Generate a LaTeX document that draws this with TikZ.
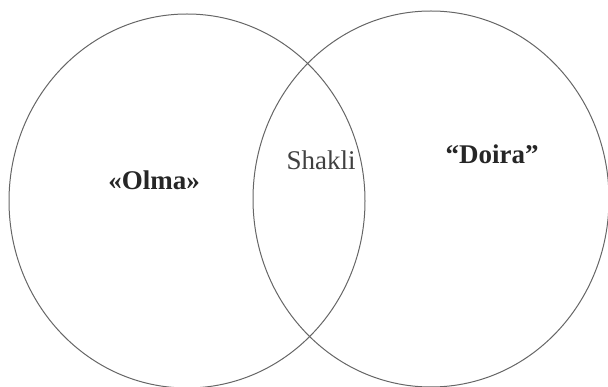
\documentclass[tikz,border=0pt]{standalone}
\usepackage{fontspec}
\setmainfont{Liberation Serif}
\usepackage{xcolor}
\usetikzlibrary{positioning}
\tikzset{
  % Konturlar
  set line/.style={line width=1pt,color=black!60},
  % Yozuvlar
  set label/.style={font=\fontsize{27}{30}\selectfont\bfseries,text=black!85,inner sep=0},
  common label/.style={font=\fontsize{27}{30}\selectfont,text=black!75,inner sep=0}
}
\begin{document}
\begin{tikzpicture}[x=1pt,y=-1pt]
\useasboundingbox (0,0) rectangle (608,387);

% Olma to'plami
\draw[set line] (187,201) ellipse [x radius=178, y radius=187];
% Doira to'plami
\draw[set line] (431,199) ellipse [x radius=178, y radius=188];

\node[set label] (olma) at (154,180) {«Olma»};
\node[set label] (doira) at (492,154) {“Doira”};
\node[common label] (shakli) at (321,160) {Shakli};

\end{tikzpicture}
\end{document}
